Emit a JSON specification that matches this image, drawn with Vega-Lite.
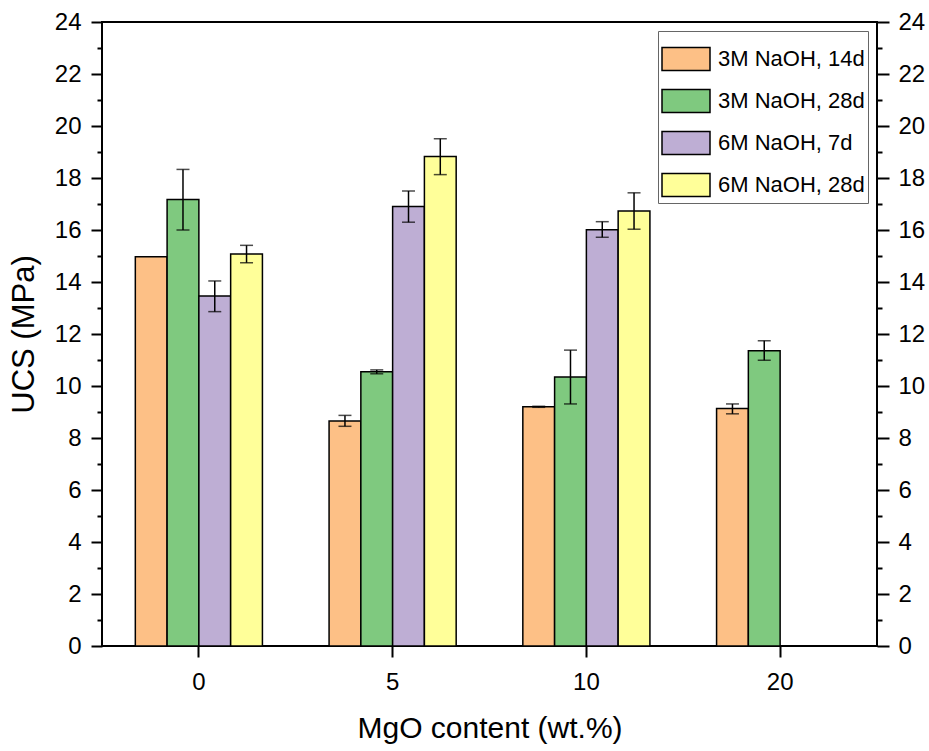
{
  "$schema": "https://vega.github.io/schema/vega-lite/v6.json",
  "width": 775,
  "height": 624,
  "autosize": {"type": "none"},
  "padding": {"left": 102, "top": 22, "right": 52, "bottom": 105},
  "background": "white",
  "config": {
    "view": {"stroke": "black", "strokeWidth": 2},
    "font": "Liberation Sans",
    "axis": {
      "labelFont": "Liberation Sans",
      "titleFont": "Liberation Sans",
      "labelFontSize": 24,
      "titleFontSize": 31,
      "titleFontWeight": "normal",
      "labelColor": "black",
      "titleColor": "black",
      "domainColor": "black",
      "tickColor": "black",
      "domainWidth": 2,
      "tickWidth": 2,
      "grid": false
    }
  },
  "data": {
    "values": [
      {"mgo": "0", "series": "3M NaOH, 14d", "ucs": 14.97, "lo": null, "hi": null},
      {"mgo": "0", "series": "3M NaOH, 28d", "ucs": 17.17, "lo": 16.0, "hi": 18.33},
      {"mgo": "0", "series": "6M NaOH, 7d", "ucs": 13.46, "lo": 12.86, "hi": 14.04},
      {"mgo": "0", "series": "6M NaOH, 28d", "ucs": 15.08, "lo": 14.74, "hi": 15.41},
      {"mgo": "5", "series": "3M NaOH, 14d", "ucs": 8.65, "lo": 8.45, "hi": 8.87},
      {"mgo": "5", "series": "3M NaOH, 28d", "ucs": 10.55, "lo": 10.47, "hi": 10.62},
      {"mgo": "5", "series": "6M NaOH, 7d", "ucs": 16.9, "lo": 16.3, "hi": 17.5},
      {"mgo": "5", "series": "6M NaOH, 28d", "ucs": 18.83, "lo": 18.13, "hi": 19.51},
      {"mgo": "10", "series": "3M NaOH, 14d", "ucs": 9.2, "lo": 9.18, "hi": 9.22},
      {"mgo": "10", "series": "3M NaOH, 28d", "ucs": 10.35, "lo": 9.31, "hi": 11.38},
      {"mgo": "10", "series": "6M NaOH, 7d", "ucs": 16.01, "lo": 15.72, "hi": 16.32},
      {"mgo": "10", "series": "6M NaOH, 28d", "ucs": 16.73, "lo": 16.03, "hi": 17.43},
      {"mgo": "20", "series": "3M NaOH, 14d", "ucs": 9.13, "lo": 8.93, "hi": 9.31},
      {"mgo": "20", "series": "3M NaOH, 28d", "ucs": 11.36, "lo": 10.99, "hi": 11.74}
    ]
  },
  "encoding": {
    "x": {
      "field": "mgo",
      "type": "ordinal",
      "sort": ["0", "5", "10", "20"],
      "scale": {"paddingInner": 0.344, "paddingOuter": 0.172},
      "axis": {"title": "MgO content (wt.%)", "labelAngle": 0, "tickSize": 11, "labelPadding": 13, "titlePadding": 19, "titleFontSize": 30, "domain": false}
    },
    "xOffset": {
      "field": "series",
      "type": "nominal",
      "scale": {"domain": ["3M NaOH, 14d", "3M NaOH, 28d", "6M NaOH, 7d", "6M NaOH, 28d"], "paddingInner": 0, "paddingOuter": 0}
    }
  },
  "resolve": {"axis": {"y": "independent"}},
  "layer": [
    {
      "mark": {"type": "bar", "stroke": "black", "strokeWidth": 1.5},
      "encoding": {
        "y": {
          "field": "ucs",
          "type": "quantitative",
          "scale": {"domain": [0, 24], "nice": false},
          "axis": {"orient": "left", "title": "UCS (MPa)", "values": [0, 2, 4, 6, 8, 10, 12, 14, 16, 18, 20, 22, 24], "tickSize": 11, "labelPadding": 10, "titlePadding": 14, "domain": false}
        },
        "fill": {
          "field": "series",
          "type": "nominal",
          "scale": {"domain": ["3M NaOH, 14d", "3M NaOH, 28d", "6M NaOH, 7d", "6M NaOH, 28d"], "range": ["#fdc086", "#7fc97f", "#beaed4", "#ffff99"]},
          "legend": {
            "title": null,
            "orient": "top-right",
            "offset": 9,
            "strokeColor": "#666666",
            "fillColor": "white",
            "padding": 3,
            "rowPadding": 2,
            "labelFont": "Liberation Sans",
            "labelFontSize": 22,
            "labelColor": "black",
            "labelOffset": 7,
            "labelLimit": 300,
            "symbolType": "M-1,-0.48H1V0.48H-1Z",
            "symbolSize": 2304,
            "symbolStrokeColor": "black",
            "symbolStrokeWidth": 1.5,
            "symbolOpacity": 1
          }
        }
      }
    },
    {
      "mark": {"type": "rule", "color": "black", "strokeWidth": 1.5},
      "encoding": {
        "y": {
          "field": "lo",
          "type": "quantitative",
          "axis": {"orient": "right", "title": null, "values": [0, 2, 4, 6, 8, 10, 12, 14, 16, 18, 20, 22, 24], "tickSize": 12, "labelPadding": 9, "domain": false}
        },
        "y2": {"field": "hi"}
      }
    },
    {
      "mark": {"type": "tick", "color": "black", "thickness": 1.5, "size": 13, "orient": "horizontal"},
      "encoding": {
        "y": {
          "field": "hi",
          "type": "quantitative",
          "axis": {"orient": "left", "title": null, "values": [1, 3, 5, 7, 9, 11, 13, 15, 17, 19, 21, 23], "labels": false, "tickSize": 5, "domain": false}
        }
      }
    },
    {
      "mark": {"type": "tick", "color": "black", "thickness": 1.5, "size": 13, "orient": "horizontal"},
      "encoding": {
        "y": {
          "field": "lo",
          "type": "quantitative",
          "axis": {"orient": "right", "title": null, "values": [1, 3, 5, 7, 9, 11, 13, 15, 17, 19, 21, 23], "labels": false, "tickSize": 5, "domain": false}
        }
      }
    }
  ]
}
